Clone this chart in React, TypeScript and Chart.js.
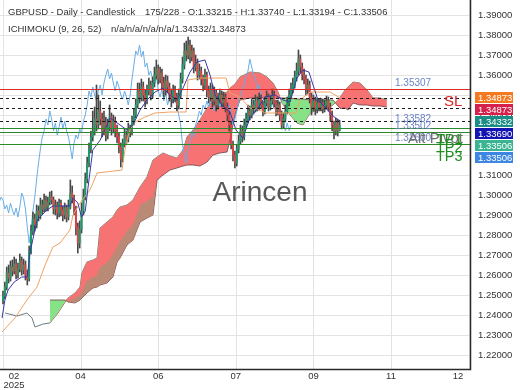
import React, { useEffect, useRef } from "react";
import { Chart, registerables } from "chart.js";

Chart.register(...registerables);

// ---------- candles (daily GBPUSD) ----------
const opens = [
  1.2470, 1.2495, 1.2540, 1.2610, 1.2585, 1.2640, 1.2620, 1.2655, 1.2600, 1.2630,
  1.2670, 1.2625, 1.2650, 1.2600, 1.2580, 1.2720, 1.2820, 1.2880, 1.2850, 1.2920,
  1.2900, 1.2950, 1.2930, 1.2975, 1.2940, 1.2965, 1.2990, 1.2975, 1.2930, 1.2950,
  1.2910, 1.2960, 1.2925, 1.2900, 1.2935, 1.2890, 1.2940, 1.3010, 1.2985, 1.2930,
  1.2840, 1.2760, 1.2830, 1.2920, 1.2990, 1.3080, 1.3160, 1.3230, 1.3290, 1.3320,
  1.3380, 1.3350, 1.3420, 1.3380, 1.3320, 1.3360, 1.3300, 1.3340, 1.3390, 1.3330,
  1.3370, 1.3320, 1.3290, 1.3240, 1.3180, 1.3260, 1.3300, 1.3280, 1.3330, 1.3310,
  1.3370, 1.3400, 1.3450, 1.3520, 1.3490, 1.3540, 1.3500, 1.3470, 1.3520, 1.3550,
  1.3500, 1.3560, 1.3600, 1.3630, 1.3580, 1.3610, 1.3560, 1.3520, 1.3570, 1.3540,
  1.3500, 1.3480, 1.3520, 1.3490, 1.3450, 1.3500, 1.3580, 1.3650, 1.3720, 1.3700,
  1.3750, 1.3690, 1.3720, 1.3640, 1.3660, 1.3600, 1.3620, 1.3580, 1.3550, 1.3600,
  1.3520, 1.3490, 1.3530, 1.3470, 1.3510, 1.3450, 1.3480, 1.3500, 1.3460, 1.3490,
  1.3440, 1.3400, 1.3350, 1.3250, 1.3200, 1.3160, 1.3230, 1.3270, 1.3320, 1.3290,
  1.3350, 1.3380, 1.3420, 1.3400, 1.3450, 1.3430, 1.3470, 1.3440, 1.3480, 1.3450,
  1.3420, 1.3460, 1.3490, 1.3440, 1.3470, 1.3500, 1.3460, 1.3420, 1.3450, 1.3400,
  1.3350, 1.3380, 1.3420, 1.3460, 1.3500, 1.3530, 1.3550, 1.3590, 1.3620, 1.3680,
  1.3640, 1.3600, 1.3580, 1.3530, 1.3550, 1.3490, 1.3440, 1.3470, 1.3430, 1.3460,
  1.3440, 1.3460, 1.3430, 1.3450, 1.3470, 1.3440, 1.3400, 1.3350, 1.3320, 1.3360, 1.33215,
];
const highs = [
  1.2520, 1.2565, 1.2640, 1.2650, 1.2670, 1.2675, 1.2690, 1.2680, 1.2660, 1.2705,
  1.2690, 1.2680, 1.2670, 1.2625, 1.2745, 1.2850, 1.2915, 1.2905, 1.2950, 1.2945,
  1.2985, 1.2975, 1.3005, 1.2995, 1.2990, 1.3015, 1.3020, 1.2990, 1.2975, 1.2965,
  1.2980, 1.2975, 1.2945, 1.2960, 1.2950, 1.2975, 1.3075, 1.3045, 1.3000, 1.2945,
  1.2860, 1.2870, 1.2960, 1.3030, 1.3110, 1.3190, 1.3260, 1.3320, 1.3420, 1.3440,
  1.3550, 1.3500, 1.3470, 1.3410, 1.3420, 1.3390, 1.3380, 1.3450, 1.3410, 1.3400,
  1.3390, 1.3350, 1.3310, 1.3260, 1.3280, 1.3330, 1.3320, 1.3360, 1.3350, 1.3395,
  1.3430, 1.3480, 1.3560, 1.3560, 1.3580, 1.3565, 1.3525, 1.3550, 1.3585, 1.3570,
  1.3590, 1.3640, 1.3675, 1.3650, 1.3640, 1.3630, 1.3590, 1.3600, 1.3595, 1.3560,
  1.3530, 1.3550, 1.3545, 1.3510, 1.3530, 1.3610, 1.3690, 1.3760, 1.3770, 1.3790,
  1.3775, 1.3750, 1.3735, 1.3700, 1.3680, 1.3655, 1.3640, 1.3600, 1.3630, 1.3615,
  1.3545, 1.3560, 1.3550, 1.3540, 1.3525, 1.3510, 1.3530, 1.3520, 1.3515, 1.3505,
  1.3460, 1.3420, 1.3370, 1.3270, 1.3220, 1.3250, 1.3300, 1.3350, 1.3345, 1.3380,
  1.3410, 1.3450, 1.3445, 1.3480, 1.3475, 1.3500, 1.3490, 1.3510, 1.3500, 1.3470,
  1.3490, 1.3520, 1.3505, 1.3495, 1.3530, 1.3520, 1.3475, 1.3475, 1.3465, 1.3420,
  1.3410, 1.3450, 1.3490, 1.3530, 1.3560, 1.3585, 1.3620, 1.3660, 1.3725, 1.3700,
  1.3660, 1.3630, 1.3600, 1.3580, 1.3570, 1.3510, 1.3500, 1.3490, 1.3485, 1.3480,
  1.3485, 1.3480, 1.3475, 1.3495, 1.3490, 1.3460, 1.3420, 1.3370, 1.3385, 1.3380, 1.33740,
];
const lows = [
  1.2455, 1.2480, 1.2525, 1.2560, 1.2570, 1.2595, 1.2605, 1.2580, 1.2585, 1.2615,
  1.2600, 1.2605, 1.2575, 1.2550, 1.2570, 1.2705, 1.2800, 1.2820, 1.2835, 1.2870,
  1.2880, 1.2905, 1.2915, 1.2920, 1.2920, 1.2950, 1.2955, 1.2905, 1.2900, 1.2880,
  1.2890, 1.2895, 1.2870, 1.2880, 1.2865, 1.2875, 1.2930, 1.2960, 1.2900, 1.2800,
  1.2710, 1.2735, 1.2810, 1.2900, 1.2975, 1.3060, 1.3140, 1.3210, 1.3270, 1.3300,
  1.3320, 1.3330, 1.3350, 1.3290, 1.3300, 1.3270, 1.3280, 1.3320, 1.3300, 1.3310,
  1.3290, 1.3260, 1.3210, 1.3140, 1.3165, 1.3240, 1.3255, 1.3265, 1.3290, 1.3300,
  1.3350, 1.3385, 1.3435, 1.3460, 1.3470, 1.3470, 1.3440, 1.3455, 1.3500, 1.3475,
  1.3485, 1.3540, 1.3580, 1.3555, 1.3560, 1.3530, 1.3490, 1.3500, 1.3510, 1.3470,
  1.3440, 1.3460, 1.3465, 1.3420, 1.3430, 1.3485, 1.3560, 1.3630, 1.3670, 1.3680,
  1.3660, 1.3670, 1.3610, 1.3620, 1.3575, 1.3580, 1.3550, 1.3520, 1.3530, 1.3490,
  1.3460, 1.3470, 1.3440, 1.3450, 1.3420, 1.3430, 1.3460, 1.3440, 1.3440, 1.3415,
  1.3370, 1.3320, 1.3230, 1.3170, 1.3135, 1.3145, 1.3210, 1.3255, 1.3265, 1.3275,
  1.3330, 1.3360, 1.3375, 1.3385, 1.3405, 1.3415, 1.3420, 1.3425, 1.3430, 1.3395,
  1.3405, 1.3445, 1.3420, 1.3425, 1.3455, 1.3440, 1.3395, 1.3400, 1.3370, 1.3330,
  1.3335, 1.3365, 1.3405, 1.3445, 1.3485, 1.3510, 1.3535, 1.3570, 1.3600, 1.3610,
  1.3575, 1.3555, 1.3500, 1.3505, 1.3460, 1.3400, 1.3420, 1.3400, 1.3410, 1.3420,
  1.3420, 1.3410, 1.3415, 1.3430, 1.3420, 1.3370, 1.3320, 1.3280, 1.3300, 1.3295, 1.33194,
];
const closes = [
  1.2495, 1.2540, 1.2610, 1.2585, 1.2640, 1.2620, 1.2655, 1.2600, 1.2630, 1.2670,
  1.2625, 1.2650, 1.2600, 1.2580, 1.2720, 1.2820, 1.2880, 1.2850, 1.2920, 1.2900,
  1.2950, 1.2930, 1.2975, 1.2940, 1.2965, 1.2990, 1.2975, 1.2930, 1.2950, 1.2910,
  1.2960, 1.2925, 1.2900, 1.2935, 1.2890, 1.2940, 1.3010, 1.2985, 1.2930, 1.2840,
  1.2760, 1.2830, 1.2920, 1.2990, 1.3080, 1.3160, 1.3230, 1.3290, 1.3320, 1.3380,
  1.3350, 1.3420, 1.3380, 1.3320, 1.3360, 1.3300, 1.3340, 1.3390, 1.3330, 1.3370,
  1.3320, 1.3290, 1.3240, 1.3180, 1.3260, 1.3300, 1.3280, 1.3330, 1.3310, 1.3370,
  1.3400, 1.3450, 1.3520, 1.3490, 1.3540, 1.3500, 1.3470, 1.3520, 1.3550, 1.3500,
  1.3560, 1.3600, 1.3630, 1.3580, 1.3610, 1.3560, 1.3520, 1.3570, 1.3540, 1.3500,
  1.3480, 1.3520, 1.3490, 1.3450, 1.3500, 1.3580, 1.3650, 1.3720, 1.3700, 1.3750,
  1.3690, 1.3720, 1.3640, 1.3660, 1.3600, 1.3620, 1.3580, 1.3550, 1.3600, 1.3520,
  1.3490, 1.3530, 1.3470, 1.3510, 1.3450, 1.3480, 1.3500, 1.3460, 1.3490, 1.3440,
  1.3400, 1.3350, 1.3250, 1.3200, 1.3160, 1.3230, 1.3270, 1.3320, 1.3290, 1.3350,
  1.3380, 1.3420, 1.3400, 1.3450, 1.3430, 1.3470, 1.3440, 1.3480, 1.3450, 1.3420,
  1.3460, 1.3490, 1.3440, 1.3470, 1.3500, 1.3460, 1.3420, 1.3450, 1.3400, 1.3350,
  1.3380, 1.3420, 1.3460, 1.3500, 1.3530, 1.3550, 1.3590, 1.3620, 1.3680, 1.3640,
  1.3600, 1.3580, 1.3530, 1.3550, 1.3490, 1.3440, 1.3470, 1.3430, 1.3460, 1.3440,
  1.3460, 1.3430, 1.3450, 1.3470, 1.3440, 1.3400, 1.3350, 1.3320, 1.3360, 1.3322, 1.33506,
];

// ---------- Ichimoku (9, 26, 52) ----------
const chikouShift = 26;
const tenkanIdx = [-0.5, 1, 2.7, 6, 10, 13, 14.4, 18.2, 23.5, 26.7, 35.8, 37.4, 40, 42, 44, 45.5, 48, 52, 57.2, 62.6, 66.3, 69.5, 73.3, 77, 81.3, 85.6, 89.3, 93, 96.3, 100, 103.7, 108, 110.7, 113.4, 117, 121.4, 124.6, 128.3, 132, 136.4, 140, 145.5, 149.7, 153.5, 157.2, 160.4, 163.6, 165.8, 168.4, 172.2, 175.9, 180];
const tenkanVal = [1.2385, 1.2475, 1.2525, 1.2565, 1.259, 1.259, 1.271, 1.2875, 1.2925, 1.2945, 1.2945, 1.2985, 1.296, 1.289, 1.292, 1.304, 1.3225, 1.3275, 1.3385, 1.335, 1.3325, 1.335, 1.3425, 1.3475, 1.3515, 1.3535, 1.35, 1.3475, 1.3535, 1.3615, 1.3665, 1.3675, 1.36, 1.35, 1.345, 1.3415, 1.3325, 1.3285, 1.3385, 1.3435, 1.349, 1.35, 1.3475, 1.3465, 1.3585, 1.3625, 1.3615, 1.355, 1.3475, 1.344, 1.34, 1.3369];

const kijunIdx = [-0.5, 6.4, 12.8, 18.2, 22.5, 26.7, 30.5, 35.8, 37.4, 41.2, 46.5, 48.1, 50.3, 63.6, 65.2, 66.3, 67.9, 70.6, 75.9, 81.3, 89.3, 97.9, 98.9, 105.3, 119.3, 121.4, 126.7, 132, 137.4, 140.1, 156.7, 158.8, 164.2, 174.9, 180];
const kijunVal = [1.2315, 1.2385, 1.2475, 1.254, 1.265, 1.274, 1.276, 1.2825, 1.29, 1.296, 1.3025, 1.306, 1.311, 1.3125, 1.3225, 1.3275, 1.3325, 1.3365, 1.339, 1.341, 1.3415, 1.3415, 1.3575, 1.3585, 1.3585, 1.351, 1.349, 1.3435, 1.3425, 1.341, 1.341, 1.3475, 1.3515, 1.3515, 1.3487];

const spanBLeadIdx = [1.1, 7.5, 12.8, 15.5, 17.1, 21.4, 25.1];
const spanBLeadVal = [1.241, 1.2395, 1.241, 1.2385, 1.234, 1.2355, 1.236];

const cloudIdx = [25.1, 29.4, 33.2, 34.8, 38.5, 41.2, 42.2, 44.9, 48.1, 50.3, 51.9, 55.6, 58.8, 61, 62.6, 66.3, 69.5, 73.3, 77, 80.2, 82.4, 85.6, 89.3, 93, 96.3, 98.4, 101.6, 105.3, 109.1, 112.3, 116, 119.8, 121.4, 124.1, 126.7, 132.1, 137.4, 141.2, 144.4, 147.1, 149.2, 153.5, 157.2, 160.4, 164.2, 167.9, 171.1, 176.5, 180.2, 182.9, 184.5, 187.2, 190.9, 194.7, 197.9, 201.6, 205.3];
const spanA = [1.2475, 1.2475, 1.2475, 1.2465, 1.246, 1.2475, 1.2485, 1.251, 1.2535, 1.254, 1.255, 1.256, 1.259, 1.2665, 1.2685, 1.275, 1.2775, 1.2865, 1.2885, 1.29, 1.3075, 1.31, 1.3125, 1.3135, 1.3145, 1.315, 1.315, 1.3145, 1.3165, 1.32, 1.321, 1.3215, 1.3275, 1.34, 1.3475, 1.3485, 1.3485, 1.3485, 1.3485, 1.3485, 1.3485, 1.3485, 1.348, 1.348, 1.3475, 1.3475, 1.3475, 1.3475, 1.3433, 1.3435, 1.3425, 1.346, 1.345, 1.345, 1.3445, 1.3445, 1.344];
const spanB = [1.236, 1.241, 1.2465, 1.2485, 1.251, 1.254, 1.261, 1.2665, 1.2675, 1.2685, 1.2835, 1.2865, 1.289, 1.2925, 1.294, 1.295, 1.2975, 1.304, 1.309, 1.3175, 1.319, 1.321, 1.3195, 1.3185, 1.3225, 1.329, 1.3325, 1.3375, 1.3435, 1.3475, 1.35, 1.3515, 1.3535, 1.3555, 1.359, 1.3615, 1.361, 1.359, 1.356, 1.3515, 1.346, 1.34, 1.336, 1.335, 1.341, 1.3425, 1.3425, 1.345, 1.3487, 1.3525, 1.354, 1.3565, 1.356, 1.3525, 1.3485, 1.3485, 1.3475];
const cloudShade = [1.2475, 1.2475, 1.2475, 1.2465, 1.2485, 1.25, 1.252, 1.257, 1.259, 1.26, 1.264, 1.266, 1.27, 1.274, 1.277, 1.282, 1.285, 1.295, 1.297, 1.299, 1.3075, 1.31, 1.3125, 1.3135, 1.3145, 1.315, 1.315, 1.3145, 1.3165, 1.32, 1.321, 1.3215, 1.3275, 1.34, 1.3475, 1.3485, 1.3485, 1.3485, 1.3485, 1.3485, 1.3485, 1.3485, 1.348, 1.348, 1.3475, 1.3475, 1.3475, 1.3475, 1.3433, 1.3435, 1.3425, 1.346, 1.345, 1.345, 1.3445, 1.3445, 1.344];

// ---------- levels ----------
const slLine = [1.35307];
const dashedLevels = [1.34873, 1.34332, 1.3369];
const tpLevels = [1.3337, 1.3315, 1.3255];
const levelTexts = ["1.35307", "1.33582", "1.33502", "1.32600"];
const badgeValues = [1.34873, 1.34873, 1.34332, 1.3369, 1.33506, 1.33506];
const badgeColors = ["#f37a20", "#d6204c", "#1b8d85", "#1414b2", "#3bb492", "#3d86e2"];

// ---------- axes ----------
const yTicks = [1.4, 1.39, 1.38, 1.37, 1.36, 1.35, 1.34, 1.33, 1.32, 1.31, 1.3, 1.29, 1.28, 1.27, 1.26, 1.25, 1.24, 1.23, 1.22, 1.21];
const xTickPos = [0, 41.5, 83, 124.5, 166, 207.5, 249];
const xTickLabels = ["02", "04", "06", "07", "09", "11", "12"];
const yearLabel = "2025";

const X_MIN = -1.604;
const X_MAX = 249.73;
const Y_MIN = 1.213;
const Y_MAX = 1.3975;

const FONT = "'Liberation Sans', Arial, sans-serif";
const UP = "#1f9a6a";
const DOWN = "#e04444";
const RED_CLOUD = "#f77272";
const GREEN_CLOUD = "#86e286";
const BROWN = "#b98a76";

const overlay = {
  id: "overlay",
  beforeDatasetsDraw(chart: any) {
    const { ctx, chartArea: a, scales } = chart;
    const x = scales.x, y = scales.y;
    ctx.save();
    ctx.strokeStyle = "#e3e3e3";
    ctx.lineWidth = 1;
    yTicks.forEach((v) => {
      const py = Math.round(y.getPixelForValue(v)) + 0.5;
      if (py < a.top || py > a.bottom) return;
      ctx.beginPath(); ctx.moveTo(a.left, py); ctx.lineTo(a.right, py); ctx.stroke();
    });
    xTickPos.forEach((v) => {
      const px = Math.round(x.getPixelForValue(v)) + 0.5;
      ctx.beginPath(); ctx.moveTo(px, a.top); ctx.lineTo(px, a.bottom); ctx.stroke();
    });
    ctx.restore();
  },
  afterDatasetsDraw(chart: any) {
    const { ctx, chartArea: a, scales } = chart;
    const x = scales.x, y = scales.y;
    const hline = (v: number, color: string, dash: number[]) => {
      const py = Math.round(y.getPixelForValue(v)) + 0.5;
      ctx.save();
      ctx.strokeStyle = color; ctx.lineWidth = 1; ctx.setLineDash(dash);
      ctx.beginPath(); ctx.moveTo(a.left, py); ctx.lineTo(a.right, py); ctx.stroke();
      ctx.restore();
    };
    slLine.forEach((v) => hline(v, "#e02a2a", []));
    dashedLevels.forEach((v) => hline(v, "#1a1a1a", [3, 3]));
    tpLevels.forEach((v) => hline(v, "#2a8a2a", []));

    ctx.save();
    ctx.textBaseline = "middle";
    ctx.textAlign = "left";
    ctx.font = `10px ${FONT}`;
    ctx.fillStyle = "#6a84c8";
    const slY = y.getPixelForValue(slLine[0]);
    ctx.fillText(levelTexts[0], 395, slY - 6);
    ctx.fillText(levelTexts[1], 395, 119.5);
    ctx.fillText(levelTexts[2], 395, 126.5);
    ctx.fillText(levelTexts[3], 395, 138);
    ctx.font = `15px ${FONT}`;
    ctx.fillStyle = "#707070";
    ctx.fillText("Alt Pivot", 408, 139);
    ctx.fillStyle = "#e02424";
    ctx.fillText("SL", 444, 102);
    ctx.font = `14.5px ${FONT}`;
    ctx.fillStyle = "#1f8f1f";
    ctx.fillText("TP1", 436, 140);
    ctx.fillText("TP2", 436, 148);
    ctx.fillText("TP3", 436, 157);

    ctx.font = `28px ${FONT}`;
    ctx.textAlign = "center";
    ctx.fillStyle = "#575757";
    ctx.fillText("Arincen", 260, 193);

    ctx.strokeStyle = "#2a2a2a";
    ctx.lineWidth = 1.5;
    ctx.beginPath();
    ctx.moveTo(a.right + 0.5, 0); ctx.lineTo(a.right + 0.5, a.bottom + 0.5);
    ctx.lineTo(a.left, a.bottom + 0.5);
    ctx.stroke();

    ctx.save();
    ctx.beginPath(); ctx.rect(a.right + 1, 0, 60, a.bottom + 2); ctx.clip();
    ctx.font = `9.5px ${FONT}`;
    ctx.fillStyle = "#333";
    ctx.textAlign = "left";
    yTicks.forEach((v) => ctx.fillText(v.toFixed(5), 478, y.getPixelForValue(v)));
    ctx.restore();

    ctx.font = `9.5px ${FONT}`;
    ctx.fillStyle = "#333";
    ctx.textAlign = "center";
    xTickPos.forEach((v, k) => {
      const px = Math.min(458, Math.max(14, x.getPixelForValue(v)));
      ctx.fillText(xTickLabels[k], px, 376);
    });
    ctx.fillText(yearLabel, 14, 385);

    let prev = -100;
    badgeValues.forEach((v, k) => {
      let cy = y.getPixelForValue(v);
      if (cy < prev + 12) cy = prev + 12;
      prev = cy;
      ctx.fillStyle = badgeColors[k];
      ctx.fillRect(475, Math.round(cy - 5.5), 38, 11);
      ctx.fillStyle = "#ffffff";
      ctx.textAlign = "left";
      ctx.fillText(v.toFixed(5), 478, cy + 0.5);
    });

    ctx.font = `9.5px ${FONT}`;
    ctx.fillStyle = "#333";
    ctx.textAlign = "left";
    ctx.fillText("GBPUSD - Daily - Candlestick", 8, 12);
    ctx.fillText("175/228 - O:1.33215 - H:1.33740 - L:1.33194 - C:1.33506", 145, 12);
    ctx.fillText("ICHIMOKU (9, 26, 52)", 8, 29.5);
    ctx.fillText("n/a/n/a/n/a/n/a/1.34332/1.34873", 111, 29.5);
    ctx.restore();
  },
};

export default function App() {
  const ref = useRef<HTMLCanvasElement>(null);
  useEffect(() => {
    document.body.style.margin = "0";
    const canvas = ref.current;
    if (!canvas) return;
    const pts = (idx: number[], vals: number[]) => idx.map((xv, k) => ({ x: xv, y: vals[k] }));
    const bodies = closes.map((c, i) => ({ x: i, y: [opens[i], c] }));
    const wicks = closes.map((c, i) => ({ x: i, y: [lows[i], highs[i]] }));
    const bodyColors = closes.map((c, i) => (c >= opens[i] ? UP : DOWN));
    const chikou = closes.map((c, i) => ({ x: i - chikouShift, y: c }));
    const lineBase = { type: "line", pointRadius: 0, borderWidth: 1, tension: 0 };

    const chart = new Chart(canvas, {
      type: "bar",
      data: {
        datasets: [
          { ...lineBase, data: pts(cloudIdx, spanB), borderColor: "rgba(115,75,75,0.85)", fill: false, order: 12 } as any,
          { ...lineBase, data: pts(cloudIdx, spanA), borderColor: "rgba(115,75,75,0.85)", fill: { target: 0, above: GREEN_CLOUD, below: RED_CLOUD }, order: 11 } as any,
          { ...lineBase, data: pts(cloudIdx, cloudShade), borderColor: "rgba(0,0,0,0)", fill: { target: 1, above: BROWN, below: "rgba(0,0,0,0)" }, order: 10 } as any,
          { ...lineBase, data: pts(spanBLeadIdx, spanBLeadVal), borderColor: "#6b7d86", fill: false, order: 12 } as any,
          { ...lineBase, data: chikou, borderColor: "#68ade6", fill: false, order: 9 } as any,
          { type: "bar", data: wicks, backgroundColor: "#484848", barThickness: 1, grouped: false, order: 8 } as any,
          { type: "bar", data: bodies, backgroundColor: bodyColors, barThickness: 1.3, grouped: false, order: 7 } as any,
          { ...lineBase, data: pts(kijunIdx, kijunVal), borderColor: "#eea263", fill: false, order: 6 } as any,
          { ...lineBase, data: pts(tenkanIdx, tenkanVal), borderColor: "#3838a6", fill: false, order: 5 } as any,
        ],
      },
      options: {
        animation: false,
        responsive: false,
        devicePixelRatio: 1,
        layout: { padding: { left: 0, top: 0, right: 50, bottom: 21 } },
        scales: {
          x: { type: "linear", display: false, min: X_MIN, max: X_MAX, offset: false },
          y: { type: "linear", display: false, min: Y_MIN, max: Y_MAX },
        },
        plugins: { legend: { display: false }, tooltip: { enabled: false } },
      } as any,
      plugins: [overlay],
    } as any);
    return () => chart.destroy();
  }, []);
  return (
    <div style={{ width: 520, height: 390 }}>
      <canvas ref={ref} width={520} height={390} style={{ display: "block", width: 520, height: 390 }} />
    </div>
  );
}
